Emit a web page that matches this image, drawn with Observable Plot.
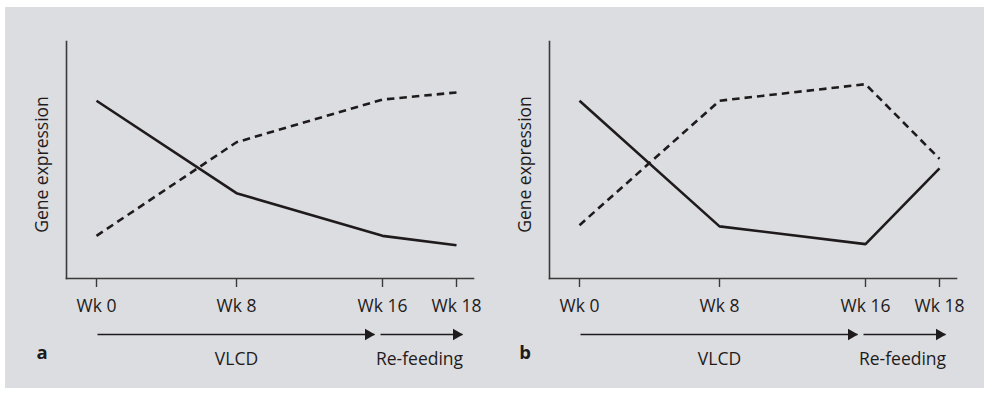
<!DOCTYPE html>
<html>
<head>
<meta charset="utf-8">
<script src="https://cdn.jsdelivr.net/npm/d3@7"></script>
<script src="https://cdn.jsdelivr.net/npm/@observablehq/plot@0.6"></script>
<style>
  html, body { margin: 0; padding: 0; background: #ffffff; }
  #figure { position: relative; width: 984px; height: 394px; overflow: hidden; }
  #backdrop { position: absolute; left: 5px; top: 7px; width: 979px; height: 381px; background: #dcdde0; }
  .panel { position: absolute; top: 0; }
</style>
</head>
<body>
<div id="figure"><div id="backdrop"></div></div>
<script>
// Time points (weeks) and their axis labels
const weeks = [0, 8, 16, 18];
const weekLabels = ["Wk 0", "Wk 8", "Wk 16", "Wk 18"];

// Diet phases shown as arrows under the axis
const phaseLabels = ["VLCD", "Re-feeding"];
const phaseStart = [0, 16];
const phaseEnd = [16, 18];

// Panel letters
const panelLetters = ["a", "b"];

// Relative gene expression (arbitrary units)
const solidA = [7.5, 3.6, 1.8, 1.4];
const dashedA = [1.8, 5.75, 7.55, 7.85];
const solidB = [7.5, 2.2, 1.45, 4.65];
const dashedB = [2.25, 7.5, 8.2, 5.05];

const ink = "#1f1b1c";
const font = "'Open Sans', sans-serif";
const fontSize = 17.5;

// Schematic week axis: uneven spacing between time points
const xRange = [96, 236, 382, 456];

// Per-phase arrow trims (px) so the two arrows sit apart
const arrowTrim = [
  {left: 1.5, right: 7.5},
  {left: -1.5, right: -6.5}
];

function panel(letter, solid, dashed) {
  const solidRows = weeks.map((w, i) => ({week: w, value: solid[i]}));
  const dashedRows = weeks.map((w, i) => ({week: w, value: dashed[i]}));
  const phases = phaseLabels.map((label, i) => ({label, start: phaseStart[i], end: phaseEnd[i], mid: (phaseStart[i] + phaseEnd[i]) / 2}));

  // Filled triangle head: length 10px, tip distance from centroid = 2/3 of that
  const headR = Math.sqrt((Math.pow(10 / 3, 2) * 3 * Math.sqrt(3)) / Math.PI);
  const tipOffset = 20 / 3;

  const arrowMarks = phases.flatMap((p, i) => [
    Plot.ruleY([p], {
      x1: "start", x2: "end", y: 0, dy: 56,
      insetLeft: arrowTrim[i].left, insetRight: arrowTrim[i].right,
      stroke: ink, strokeWidth: 1.3
    }),
    Plot.dot([p], {
      x: "end", y: 0, dy: 56, dx: -arrowTrim[i].right - tipOffset,
      symbol: "triangle", rotate: 90, r: headR, fill: ink, stroke: "none"
    })
  ]);

  return Plot.plot({
    width: 483,
    height: 394,
    marginTop: 41,
    marginBottom: 116,
    marginLeft: 66,
    marginRight: 10,
    style: {background: "transparent", fontFamily: font, fontSize: fontSize + "px", color: ink, overflow: "visible"},
    x: {type: "linear", domain: weeks, range: xRange, axis: null},
    y: {domain: [0, 10], axis: null},
    marks: [
      Plot.frame({anchor: "left", stroke: "#3a3a3a", strokeWidth: 1.6}),
      Plot.frame({anchor: "bottom", stroke: "#3a3a3a", strokeWidth: 1.6}),
      Plot.axisX({
        ticks: weeks,
        tickFormat: (d) => weekLabels[weeks.indexOf(d)],
        tickSize: 9,
        tickPadding: 12,
        strokeWidth: 1.4,
        stroke: "#3a3a3a",
        fill: ink,
        fontSize: fontSize,
        label: null
      }),
      Plot.line(dashedRows, {
        x: "week", y: "value", stroke: ink, strokeWidth: 2.6,
        strokeDasharray: "7.5,5", strokeLinecap: "butt", strokeLinejoin: "miter"
      }),
      Plot.line(solidRows, {
        x: "week", y: "value", stroke: ink, strokeWidth: 2.6,
        strokeLinecap: "butt", strokeLinejoin: "miter"
      }),
      ...arrowMarks,
      Plot.text(phases, {
        x: "mid", y: 0, dy: 81, text: "label",
        fill: ink, fontSize: fontSize
      }),
      Plot.text(["Gene expression"], {
        frameAnchor: "left", textAnchor: "middle", rotate: -90, dx: -24, dy: 4.5,
        fill: ink, fontSize: fontSize
      }),
      Plot.text([letter], {
        frameAnchor: "bottom-left", textAnchor: "middle", dx: -24.5, dy: 80,
        fill: ink, fontSize: fontSize + 1, fontWeight: "bold"
      })
    ]
  });
}

const fig = document.getElementById("figure");
const panels = [
  panel(panelLetters[0], solidA, dashedA),
  panel(panelLetters[1], solidB, dashedB)
];
panels.forEach((svg, i) => {
  svg.classList.add("panel");
  svg.style.left = (i * 483) + "px";
  fig.appendChild(svg);
});
</script>
</body>
</html>
